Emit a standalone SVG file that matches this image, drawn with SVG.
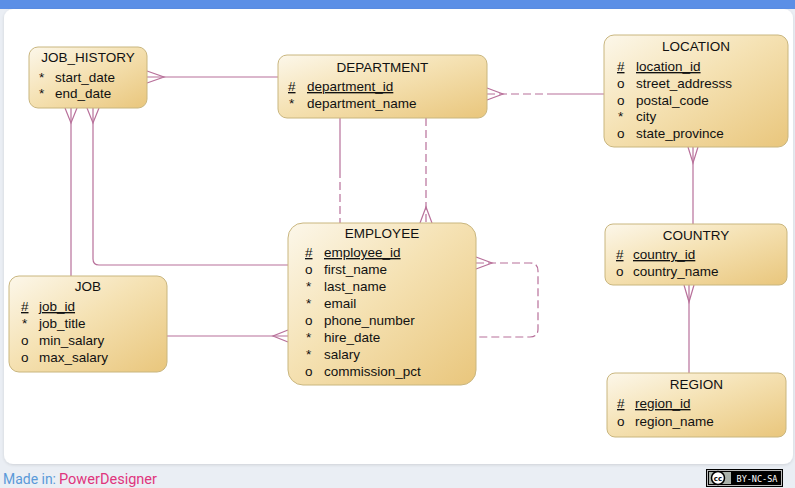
<svg xmlns="http://www.w3.org/2000/svg" width="795" height="488" viewBox="0 0 795 488">
  <defs>
    <linearGradient id="ent" x1="0" y1="0" x2="1" y2="1">
      <stop offset="0" stop-color="#fcf7ea"/>
      <stop offset="0.45" stop-color="#f5e2b4"/>
      <stop offset="1" stop-color="#e9c67c"/>
    </linearGradient>
    <filter id="sh" x="-5%" y="-5%" width="110%" height="110%">
      <feDropShadow dx="0" dy="1" stdDeviation="1.5" flood-color="#000" flood-opacity="0.12"/>
    </filter>
  </defs>
  <style>
    .box { fill: url(#ent); stroke: #c9b67f; stroke-width: 1; }
    .t { font-family: "Liberation Sans", Arial, sans-serif; font-size: 13.5px; fill: #111; }
    .title { text-anchor: middle; }
    .pk { text-decoration: underline; }
    .c { fill: none; stroke: #b8709a; stroke-width: 1.2; }
    .d { stroke-dasharray: 8 4; }
  </style>

  <!-- page background -->
  <rect x="0" y="0" width="795" height="488" fill="#eaeef4"/>
  <rect x="0" y="0" width="795" height="9" fill="#5b8fe6"/>
  <rect x="4" y="9" width="789" height="455" rx="9" fill="#ffffff" filter="url(#sh)"/>

  <!-- connectors -->
  <g id="connectors">
    <!-- JOB_HISTORY - DEPARTMENT -->
    <path class="c" d="M147,77 H278"/>
    <path class="c" d="M147,71 L164,77 L147,83"/>
    <!-- JOB_HISTORY - JOB -->
    <path class="c" d="M71,108 V276"/>
    <path class="c" d="M65,108 L71,123 L77,108"/>
    <!-- JOB_HISTORY - EMPLOYEE -->
    <path class="c" d="M93,108 V259 Q93,265 99,265 H288"/>
    <path class="c" d="M87,108 L93,123 L99,108"/>
    <!-- JOB - EMPLOYEE -->
    <path class="c" d="M167,336 H288"/>
    <path class="c" d="M288,330 L273,336 L288,342"/>
    <!-- DEPARTMENT - EMPLOYEE (manager) -->
    <path class="c" d="M340,118 V170"/>
    <path class="c d" d="M340,170 V223"/>
    <!-- DEPARTMENT - EMPLOYEE (works in) -->
    <path class="c d" d="M426,118 V223"/>
    <path class="c" d="M420,223 L426,207 L432,223"/>
    <!-- DEPARTMENT - LOCATION -->
    <path class="c d" d="M487,94 H547"/>
    <path class="c" d="M547,94 H604"/>
    <path class="c" d="M487,88 L503,94 L487,100"/>
    <!-- LOCATION - COUNTRY -->
    <path class="c" d="M693,147 V224"/>
    <path class="c" d="M688,147 L693,163 L698,147"/>
    <!-- COUNTRY - REGION -->
    <path class="c" d="M689,285 V373"/>
    <path class="c" d="M684,285 L689,302 L694,285"/>
    <!-- EMPLOYEE self -->
    <path class="c d" d="M476,263 H530 Q538,263 538,271 V329 Q538,337 530,337 H476"/>
    <path class="c" d="M476,257 L492,263 L476,269"/>
  </g>

  <g id="job_history">
    <rect class="box" x="29" y="47" width="118" height="61" rx="9"/>
    <text class="t title" x="88" y="62">JOB_HISTORY</text>
    <text class="t" x="39" y="82">*</text><text class="t" x="55" y="82">start_date</text>
    <text class="t" x="39" y="98">*</text><text class="t" x="55" y="98">end_date</text>
  </g>

  <g id="department">
    <rect class="box" x="278" y="55" width="209" height="63" rx="9"/>
    <text class="t title" x="382.5" y="72">DEPARTMENT</text>
    <text class="t pk" x="288" y="91">#</text><text class="t pk" x="307" y="91">department_id</text>
    <text class="t" x="289" y="108">*</text><text class="t" x="307" y="108">department_name</text>
  </g>

  <g id="location">
    <rect class="box" x="604" y="35" width="184" height="112" rx="10"/>
    <text class="t title" x="696" y="51">LOCATION</text>
    <text class="t pk" x="617" y="71">#</text><text class="t pk" x="636" y="71">location_id</text>
    <text class="t" x="617" y="88">o</text><text class="t" x="636" y="88">street_addresss</text>
    <text class="t" x="617" y="105">o</text><text class="t" x="636" y="105">postal_code</text>
    <text class="t" x="618" y="121">*</text><text class="t" x="636" y="121">city</text>
    <text class="t" x="617" y="138">o</text><text class="t" x="636" y="138">state_province</text>
  </g>

  <g id="country">
    <rect class="box" x="605" y="224" width="182" height="61" rx="8"/>
    <text class="t title" x="696" y="240">COUNTRY</text>
    <text class="t pk" x="616" y="259">#</text><text class="t pk" x="633" y="259">country_id</text>
    <text class="t" x="616" y="276">o</text><text class="t" x="633" y="276">country_name</text>
  </g>

  <g id="region">
    <rect class="box" x="607" y="373" width="179" height="64" rx="8"/>
    <text class="t title" x="696.5" y="389">REGION</text>
    <text class="t pk" x="617" y="408">#</text><text class="t pk" x="635" y="408">region_id</text>
    <text class="t" x="617" y="426">o</text><text class="t" x="635" y="426">region_name</text>
  </g>

  <g id="job">
    <rect class="box" x="9" y="276" width="158" height="96" rx="10"/>
    <text class="t title" x="88" y="291">JOB</text>
    <text class="t pk" x="21" y="311">#</text><text class="t pk" x="39" y="311">job_id</text>
    <text class="t" x="22" y="328">*</text><text class="t" x="39" y="328">job_title</text>
    <text class="t" x="21" y="345">o</text><text class="t" x="39" y="345">min_salary</text>
    <text class="t" x="21" y="362">o</text><text class="t" x="39" y="362">max_salary</text>
  </g>

  <g id="employee">
    <rect class="box" x="288" y="223" width="188" height="162" rx="15"/>
    <text class="t title" x="382" y="238">EMPLOYEE</text>
    <text class="t pk" x="305" y="257">#</text><text class="t pk" x="324" y="257">employee_id</text>
    <text class="t" x="305" y="274">o</text><text class="t" x="324" y="274">first_name</text>
    <text class="t" x="306" y="291">*</text><text class="t" x="324" y="291">last_name</text>
    <text class="t" x="306" y="308">*</text><text class="t" x="324" y="308">email</text>
    <text class="t" x="305" y="325">o</text><text class="t" x="324" y="325">phone_number</text>
    <text class="t" x="306" y="342">*</text><text class="t" x="324" y="342">hire_date</text>
    <text class="t" x="306" y="359">*</text><text class="t" x="324" y="359">salary</text>
    <text class="t" x="305" y="376">o</text><text class="t" x="324" y="376">commission_pct</text>
  </g>

  <!-- footer -->
  <text x="3" y="484" font-family="Roboto, 'Open Sans', sans-serif" font-size="15" fill="#5a9ad9" textLength="53" lengthAdjust="spacingAndGlyphs">Made in:</text>
  <text x="59" y="484" font-family="Roboto, 'Open Sans', sans-serif" font-size="15" fill="#e0357d" textLength="98" lengthAdjust="spacingAndGlyphs">PowerDesigner</text>

  <g id="cc-badge">
    <rect x="706" y="469" width="77" height="18" fill="#000"/>
    <rect x="707.5" y="470.5" width="74" height="15" fill="none" stroke="#bbb" stroke-width="1"/>
    <rect x="709" y="472" width="22" height="12" fill="#aab2ab"/>
    <circle cx="718" cy="478" r="6.5" fill="#fff" stroke="#000" stroke-width="1.5"/>
    <text x="718" y="481" font-family="'DejaVu Sans', sans-serif" font-size="7" font-weight="bold" text-anchor="middle" fill="#000">cc</text>
    <text x="757" y="481.5" font-family="'DejaVu Sans Mono', monospace" font-size="8.5" text-anchor="middle" fill="#fff">BY-NC-SA</text>
  </g>
</svg>
